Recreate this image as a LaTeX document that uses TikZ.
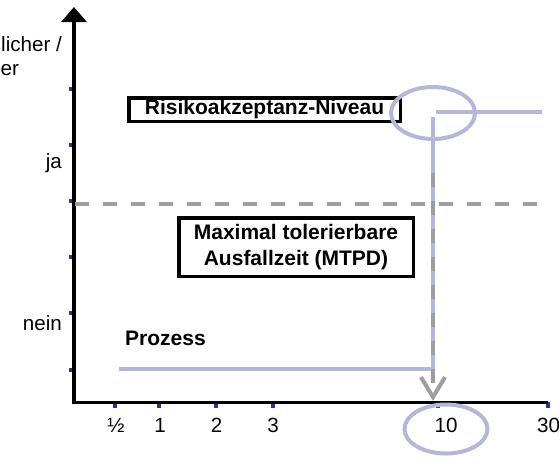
\documentclass[tikz,border=0pt]{standalone}
\usepackage{fontspec}
\setmainfont{Liberation Sans}
\usetikzlibrary{arrows.meta}
\definecolor{lav}{RGB}{180,184,214}
\definecolor{gr}{RGB}{158,158,158}
\definecolor{tk}{RGB}{31,58,140}
\begin{document}
\begin{tikzpicture}[x=1pt,y=-1pt,
 lbl/.style={font=\fontsize{20.6}{24}\selectfont, inner sep=0pt},
 blbl/.style={font=\fontsize{21}{26}\selectfont\bfseries, inner sep=0pt},
 boxed/.style={draw=black, line width=3.5pt, inner sep=0pt, align=center},
 axisline/.style={line width=3.5pt, black},
 prline/.style={draw=lav, line width=4pt},
 gdash/.style={draw=gr, line width=4pt, dash pattern=on 14pt off 14pt},
 ring/.style={draw=lav, line width=4pt},
 tickmark/.style={fill=tk}]
\useasboundingbox (0,0) rectangle (559,458);
% ticks
\foreach \yy in {89,145,201,257,313,370} \fill[tickmark] (69,\yy-2) rectangle (74,\yy+2);
\foreach \xx in {114.5,159,216,273,438,548} \fill[tickmark] (\xx-2,402) rectangle (\xx+2,408);
% axes
\coordinate (ytop) at (74,7);
\coordinate (O) at (74,402.5);
\coordinate (xend) at (548,402.5);
\draw[axisline, {Triangle[width=25pt,length=15pt]}-] (ytop) -- (O) -- (xend);
% process line
\coordinate (p0) at (119,369);
\coordinate (p1) at (433,369);
\coordinate (p2) at (433,117);
\coordinate (p3) at (436,112);
\coordinate (p4) at (542,112);
\draw[prline] (p0) -- (p1) -- (p2);
\draw[prline] (p3) -- (p4);
% gray dashed lines
\coordinate (h0) at (75,204);
\coordinate (h1) at (537,204);
\draw[gdash] (h0) -- (h1);
\coordinate (g0) at (433,173);
\coordinate (t10) at (433,401);
\draw[gdash, -{Straight Barb[length=20pt,width=24pt]}] (g0) -- (t10);
% boxes
\node[boxed, blbl, minimum width=271.5pt, minimum height=23.5pt] (risk) at (264.5,109.5) {Risikoakzeptanz-Niveau};
\node[boxed, blbl, minimum width=234.5pt, minimum height=58.5pt] (mtpd) at (296,247) {Maximal tolerierbare\\Ausfallzeit (MTPD)};
\node[blbl, anchor=base west] (proz) at (125,345) {Prozess};
% rings
\draw[ring] (433,113) ellipse [x radius=42pt, y radius=26pt];
\draw[ring] (446,429) ellipse [x radius=41.5pt, y radius=24.5pt];
% labels
\node[lbl, anchor=base west] (t1) at (1,51) {licher /};
\node[lbl, anchor=base west] (t2) at (0.5,75) {er};
\node[lbl, anchor=base east] (ja) at (62,168) {ja};
\node[lbl, anchor=base east] (nein) at (62,330) {nein};
\node[lbl, anchor=base] (xh) at (116,432) {½};
\node[lbl, anchor=base] (x1) at (160,432) {1};
\node[lbl, anchor=base] (x2) at (216.5,432) {2};
\node[lbl, anchor=base] (x3) at (273,432) {3};
\node[lbl, anchor=base] (x10) at (446,432) {10};
\node[lbl, anchor=base west] (x30) at (537,432) {30};
\end{tikzpicture}
\end{document}
